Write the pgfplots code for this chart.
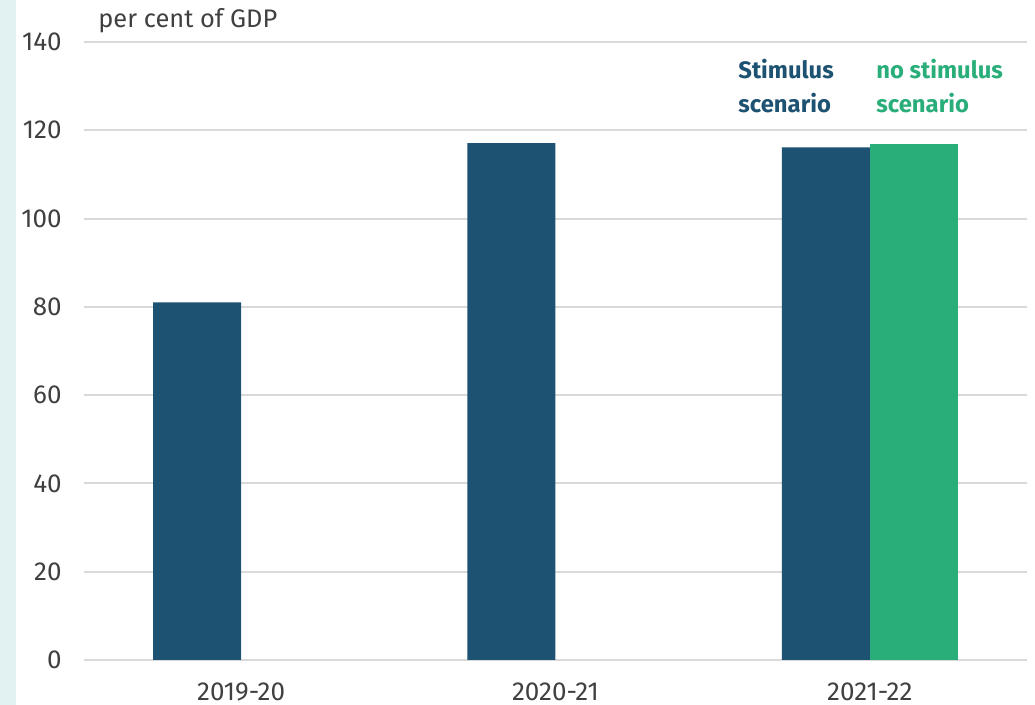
\documentclass[border=0pt]{standalone}
\usepackage{fontspec}
\setmainfont{Fira Sans}
\usepackage{pgfplots}
\pgfplotsset{compat=1.18}
\definecolor{dblue}{HTML}{1D5273}
\definecolor{mgreen}{HTML}{29AE7A}
\definecolor{txt}{HTML}{404040}
\definecolor{gridc}{HTML}{D9D9D9}
\definecolor{strip}{HTML}{E2F2F2}
\begin{document}
\begin{tikzpicture}
\useasboundingbox (0,0) rectangle (517.5pt,352.5pt);
\fill[strip] (0,0) rectangle (8pt,352.5pt);
\begin{axis}[
 at={(42pt,22.5pt)}, anchor=south west,
 scale only axis, width=471.5pt, height=309pt,
 xmin=-0.5, xmax=2.5, ymin=0, ymax=140,
 ytick={0,20,...,140}, xtick={0,1,2}, xticklabels={2019-20,2020-21,2021-22},
 axis line style={draw=none}, major tick length=0pt,
 ymajorgrids, grid style={draw=gridc, line width=1pt},
 tick label style={font=\fontsize{13}{15}\selectfont, text=txt},
 /pgf/number format/assume math mode=true,
 yticklabel style={anchor=east, inner sep=0pt, xshift=-11pt},
 xticklabel style={anchor=north, inner sep=0pt, yshift=-11pt},
 clip=false,
]
\addplot[ybar, bar width=0.28, bar shift=-0.14, fill=dblue, draw=none] coordinates {(0,81) (1,117.1) (2,116.1)};
\addplot[ybar, bar width=0.28, bar shift=0.14, fill=mgreen, draw=none] coordinates {(2,116.8)};
\end{axis}
\node[anchor=base west, inner sep=0pt, text=txt, font=\fontsize{12.7}{14}\selectfont] at (49pt,338.5pt) {per cent of GDP};
\node[anchor=base west, inner sep=0pt, text=dblue, font=\bfseries\fontsize{11.9}{14}\selectfont] at (369pt,313pt) {Stimulus};
\node[anchor=base west, inner sep=0pt, text=dblue, font=\bfseries\fontsize{11.9}{14}\selectfont] at (369pt,296pt) {scenario};
\node[anchor=base west, inner sep=0pt, text=mgreen, font=\bfseries\fontsize{11.9}{14}\selectfont] at (438pt,313pt) {no stimulus};
\node[anchor=base west, inner sep=0pt, text=mgreen, font=\bfseries\fontsize{11.9}{14}\selectfont] at (438pt,296pt) {scenario};
\end{tikzpicture}
\end{document}
